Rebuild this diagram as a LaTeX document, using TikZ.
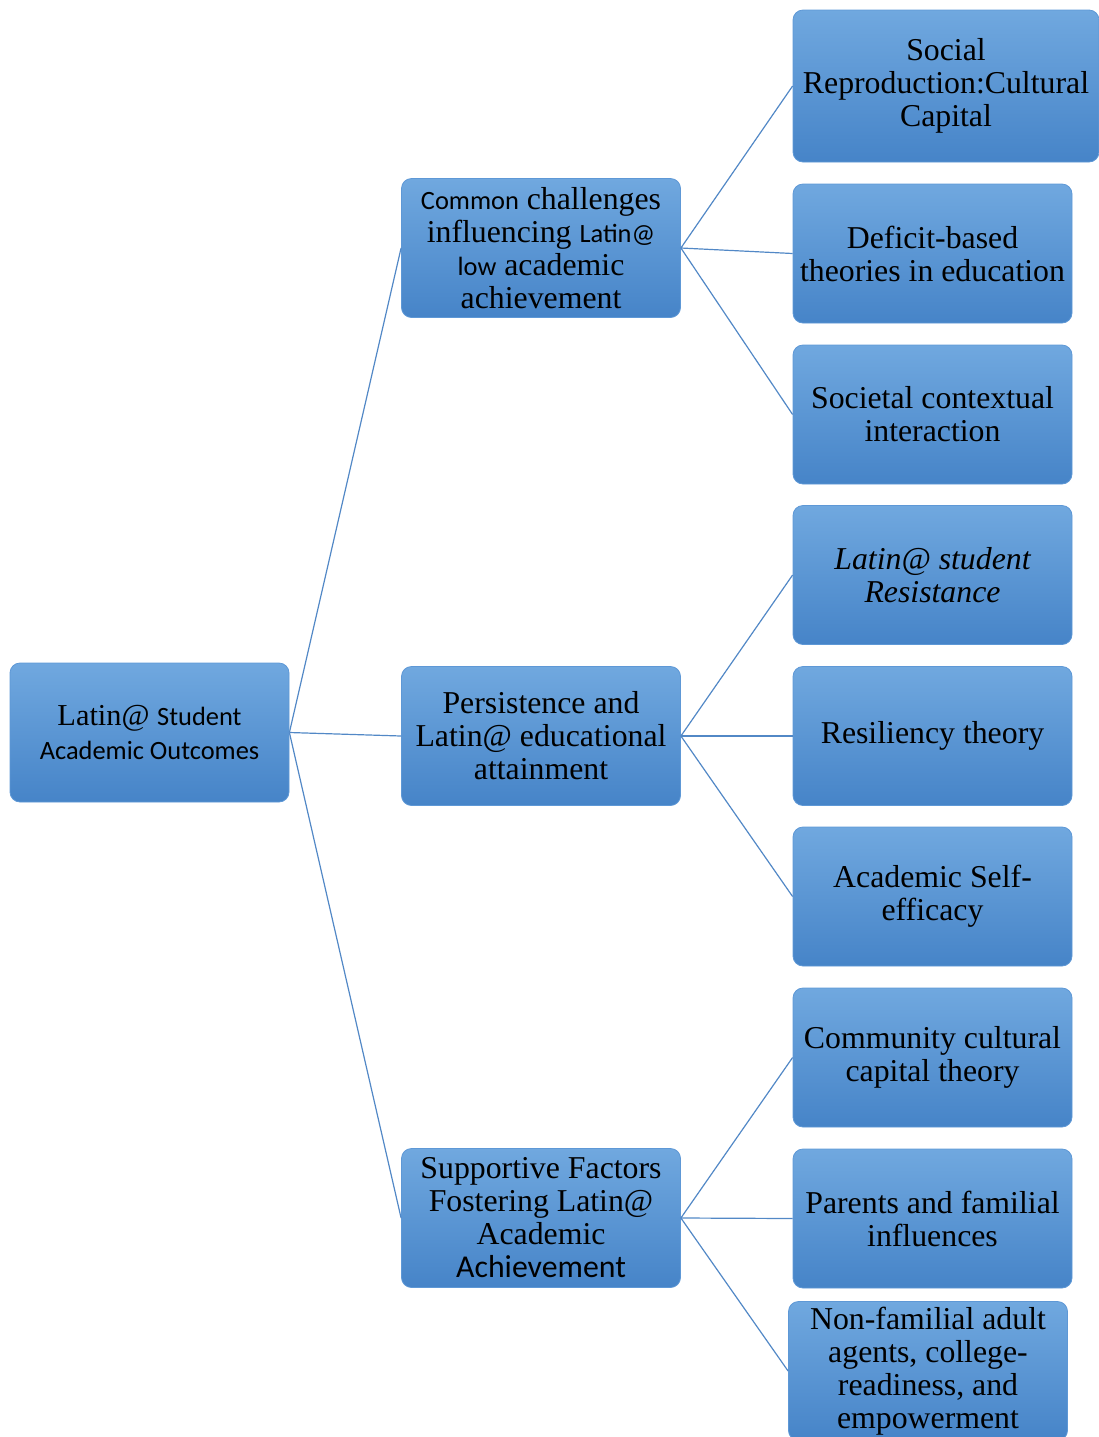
\documentclass[tikz,border=0pt]{standalone}
\usepackage{fontspec}
\setmainfont{Liberation Serif}
\newfontfamily\carl{Carlito}
\newcommand{\smsans}[1]{{\carl\fontsize{13.2}{16.5}\selectfont #1}}
\definecolor{boxtop}{HTML}{70A8DF}
\definecolor{boxbot}{HTML}{4684C8}
\definecolor{boxedge}{HTML}{5E98D6}
\definecolor{linkcol}{HTML}{5288C6}
\tikzset{
  box/.style={rectangle, rounded corners=5pt, top color=boxtop, bottom color=boxbot,
    draw=boxedge, line width=0.4pt, inner sep=0pt, align=center,
    minimum width=139.5pt, minimum height=69.5pt,
    font=\fontsize{15.9}{16.5}\selectfont},
  link/.style={draw=linkcol, line width=0.6pt}
}
\begin{document}
\begin{tikzpicture}[x=0.5pt,y=-0.5pt]
\useasboundingbox (0,0) rectangle (1099,1437);
% root
\node[box, font=\fontsize{15.2}{16}\selectfont] (root) at (149.5,732.5) {Latin@ \smsans{Student}\\[1pt]\smsans{Academic Outcomes}};
% middle level
\node[box] (m1) at (541,248) {\smsans{Common} challenges\\influencing \smsans{Latin@}\\\smsans{low} academic\\achievement};
\node[box] (m2) at (541,736) {Persistence and\\Latin@ educational\\attainment};
\node[box] (m3) at (541,1218) {Supportive Factors\\Fostering Latin@\\Academic\\{\carl Achievement}};
% right level
\node[box, minimum width=153pt, minimum height=76pt] (r1) at (946,86) {Social\\Reproduction:Cultural\\Capital};
\node[box] (r2) at (932.5,253.5) {Deficit-based\\theories in education};
\node[box] (r3) at (932.5,414.5) {Societal contextual\\interaction};
\node[box] (r4) at (932.5,575) {\itshape Latin@ student\\\itshape Resistance};
\node[box] (r5) at (932.5,736) {Resiliency theory};
\node[box] (r6) at (932.5,896.5) {Academic Self-\\efficacy};
\node[box] (r7) at (932.5,1057.5) {Community cultural\\capital theory};
\node[box] (r8) at (932.5,1218.5) {Parents and familial\\influences};
\node[box] (r9) at (928,1371) {Non-familial adult\\agents, college-\\readiness, and\\empowerment};
% connectors
\draw[link] (root.east) -- (m1.west);
\draw[link] (root.east) -- (m2.west);
\draw[link] (root.east) -- (m3.west);
\draw[link] (m1.east) -- (r1.west);
\draw[link] (m1.east) -- (r2.west);
\draw[link] (m1.east) -- (r3.west);
\draw[link] (m2.east) -- (r4.west);
\draw[link] (m2.east) -- (r5.west);
\draw[link] (m2.east) -- (r6.west);
\draw[link] (m3.east) -- (r7.west);
\draw[link] (m3.east) -- (r8.west);
\draw[link] (m3.east) -- (r9.west);
\end{tikzpicture}
\end{document}
